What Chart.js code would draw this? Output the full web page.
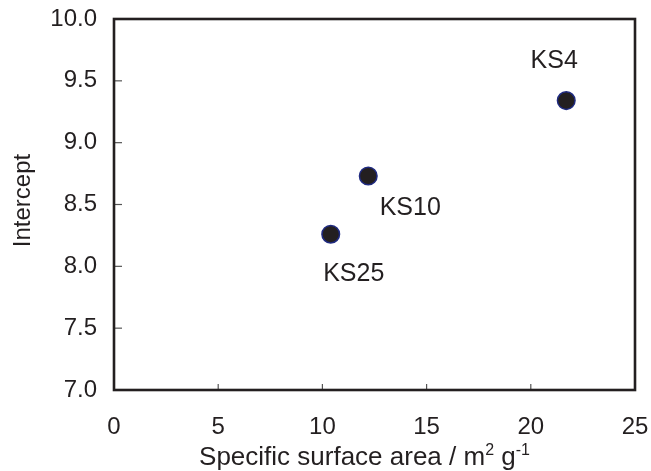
<!DOCTYPE html>
<html>
<head>
<meta charset="utf-8">
<script src="https://cdn.jsdelivr.net/npm/chart.js@4"></script>
<style>
  html, body { margin: 0; padding: 0; background: #fff; }
  #wrap { width: 651px; height: 471px; position: relative; }
</style>
</head>
<body>
<div id="wrap"><canvas id="chart"></canvas></div>
<script>
// data
const sampleNames = ['KS25', 'KS10', 'KS4'];
const surfaceArea = [10.4, 12.2, 21.7];
const intercept = [8.26, 8.73, 9.34];
const xTicks = [0, 5, 10, 15, 20, 25];
const yTicks = [7.0, 7.5, 8.0, 8.5, 9.0, 9.5, 10.0];

const FONT = '"Liberation Sans", Arial, sans-serif';
const INK = '#231f20';

// where each sample label sits relative to its point (px)
const labelShift = { KS25: [23, 40], KS10: [42, 32], KS4: [-12, -40] };

const noOverhang = s => {
    s.paddingTop = 0; s.paddingBottom = 0;
    s.paddingLeft = 0; s.paddingRight = 0;
};

const framePlugin = {
    id: 'frame',
    afterDraw(chart) {
        const { ctx, chartArea: a, scales } = chart;
        ctx.save();
        // inward tick marks
        ctx.strokeStyle = '#555';
        ctx.lineWidth = 1.2;
        scales.y.ticks.forEach(t => {
            const py = scales.y.getPixelForValue(t.value);
            ctx.beginPath(); ctx.moveTo(a.left, py); ctx.lineTo(a.left + 8, py); ctx.stroke();
        });
        scales.x.ticks.forEach(t => {
            const px = scales.x.getPixelForValue(t.value);
            ctx.beginPath(); ctx.moveTo(px, a.bottom); ctx.lineTo(px, a.bottom - 6); ctx.stroke();
        });
        // box
        ctx.strokeStyle = INK;
        ctx.lineWidth = 2.6;
        ctx.strokeRect(a.left, a.top, a.right - a.left, a.bottom - a.top);

        // point labels
        ctx.fillStyle = INK;
        ctx.font = '25px ' + FONT;
        ctx.textAlign = 'center';
        ctx.textBaseline = 'middle';
        chart.getDatasetMeta(0).data.forEach((pt, i) => {
            const s = labelShift[sampleNames[i]];
            ctx.fillText(sampleNames[i], pt.x + s[0], pt.y + s[1]);
        });

        // y title
        ctx.save();
        ctx.font = '24px ' + FONT;
        ctx.translate(23, (a.top + a.bottom) / 2 - 4);
        ctx.rotate(-Math.PI / 2);
        ctx.fillText('Intercept', 0, 0);
        ctx.restore();

        // x title with superscripts
        const parts = [
            ['Specific surface area / m', 26, 0],
            ['2', 16, -10],
            [' g', 26, 0],
            ['-1', 16, -10]
        ];
        let total = 0;
        parts.forEach(p => { ctx.font = p[1] + 'px ' + FONT; total += ctx.measureText(p[0]).width; });
        let x = (a.left + a.right) / 2 - total / 2 - 10;
        const base = 465;
        ctx.textAlign = 'left';
        ctx.textBaseline = 'alphabetic';
        parts.forEach(p => {
            ctx.font = p[1] + 'px ' + FONT;
            ctx.fillText(p[0], x, base + p[2]);
            x += ctx.measureText(p[0]).width;
        });
        ctx.restore();
    }
};

new Chart(document.getElementById('chart'), {
    type: 'scatter',
    data: {
        datasets: [{
            data: surfaceArea.map((v, i) => ({ x: v, y: intercept[i] })),
            backgroundColor: INK,
            borderColor: '#1f2a80',
            borderWidth: 1.5,
            pointRadius: 8.8,
            pointHoverRadius: 8.8
        }]
    },
    options: {
        responsive: true,
        maintainAspectRatio: false,
        animation: false,
        events: [],
        layout: { padding: { top: 19, right: 16, left: 0, bottom: 0 } },
        plugins: { legend: { display: false }, tooltip: { enabled: false } },
        scales: {
            x: {
                type: 'linear',
                min: 0, max: 25,
                afterBuildTicks: s => { s.ticks = xTicks.map(v => ({ value: v })); },
                afterFit: s => { s.height = 81; noOverhang(s); },
                grid: { display: false, drawTicks: false },
                border: { display: false },
                ticks: {
                    color: INK, padding: 23,
                    font: { family: FONT, size: 24 },
                    maxRotation: 0,
                    callback: v => String(v)
                }
            },
            y: {
                type: 'linear',
                min: 7, max: 10,
                afterBuildTicks: s => { s.ticks = yTicks.map(v => ({ value: v })); },
                afterFit: s => { s.width = 114; noOverhang(s); },
                grid: { display: false, drawTicks: false },
                border: { display: false },
                ticks: {
                    color: INK, padding: 17,
                    font: { family: FONT, size: 24 },
                    callback: v => Number(v).toFixed(1)
                }
            }
        }
    },
    plugins: [framePlugin]
});
</script>
</body>
</html>
